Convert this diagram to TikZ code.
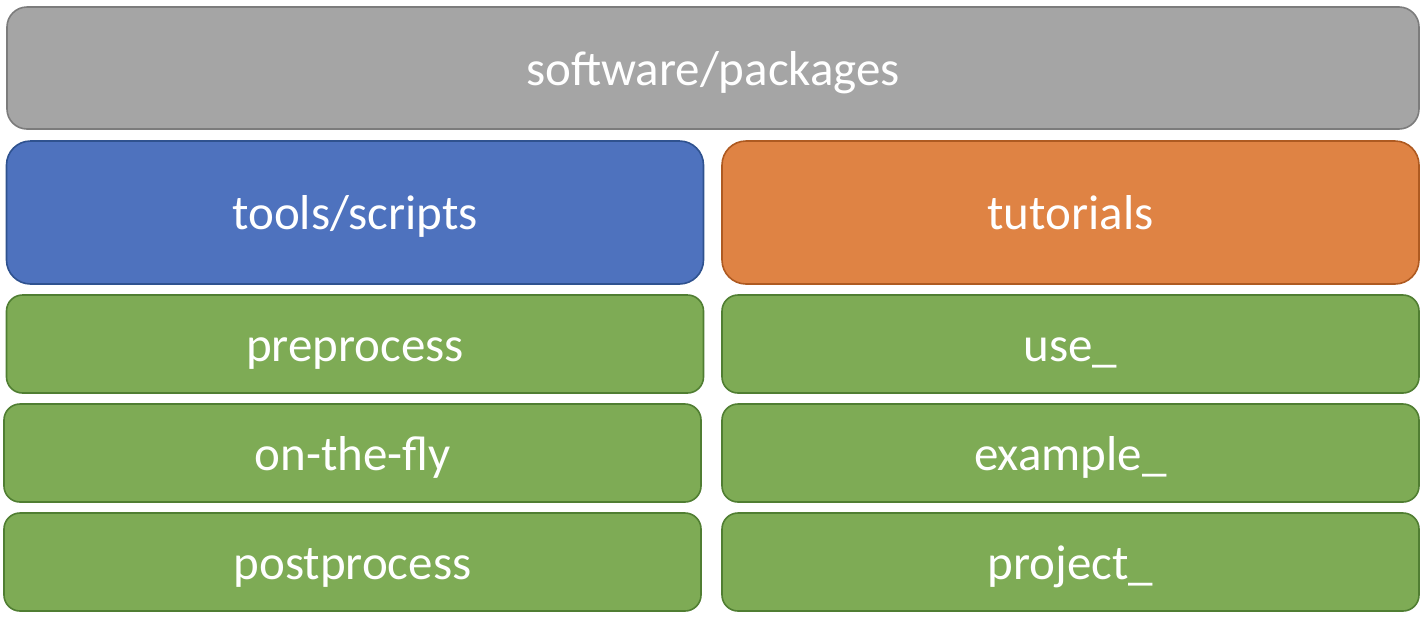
\documentclass[tikz,border=0pt]{standalone}
\usepackage{fontspec}
\setmainfont{Carlito}
\usepackage{xcolor}
\definecolor{boxgray}{HTML}{A5A5A5}
\definecolor{linegray}{HTML}{7C7C7C}
\definecolor{boxblue}{HTML}{4E72BE}
\definecolor{lineblue}{HTML}{2F528F}
\definecolor{boxorange}{HTML}{DF8344}
\definecolor{lineorange}{HTML}{AE5A21}
\definecolor{boxgreen}{HTML}{7EAB55}
\definecolor{linegreen}{HTML}{507E32}

\begin{document}
\begin{tikzpicture}[x=1pt, y=-1pt,
  every node/.style={font=\fontsize{49}{58}\selectfont, text=white,
    line width=1.6pt, inner sep=0pt, text height=46pt, text depth=12pt},
  layer/.style={draw=linegray, fill=boxgray, rounded corners=20pt,
    minimum width=1412pt, minimum height=122pt},
  part/.style={minimum width=697pt, minimum height=143pt, rounded corners=24pt},
  item/.style={draw=linegreen, fill=boxgreen, rounded corners=16pt,
    minimum width=697pt, minimum height=98pt}]
  \useasboundingbox (0, 0) rectangle (1428, 622);
  \node[layer] (soft) at (713, 68) {software/packages};
  \node[part, draw=lineblue, fill=boxblue] (tools) at (355, 212.5) {tools/scripts};
  \node[part, draw=lineorange, fill=boxorange] (tut) at (1070.5, 212.5) {tutorials};
  \foreach \name/\x/\y/\txt in {pre/355/344/preprocess, otf/352.5/453/on-the-fly,
      post/352.5/562/postprocess, use/1070.5/344/use\_,
      ex/1070.5/453/example\_, proj/1070.5/562/project\_}
    {\node[item] (\name) at (\x, \y) {\txt};}
\end{tikzpicture}
\end{document}
